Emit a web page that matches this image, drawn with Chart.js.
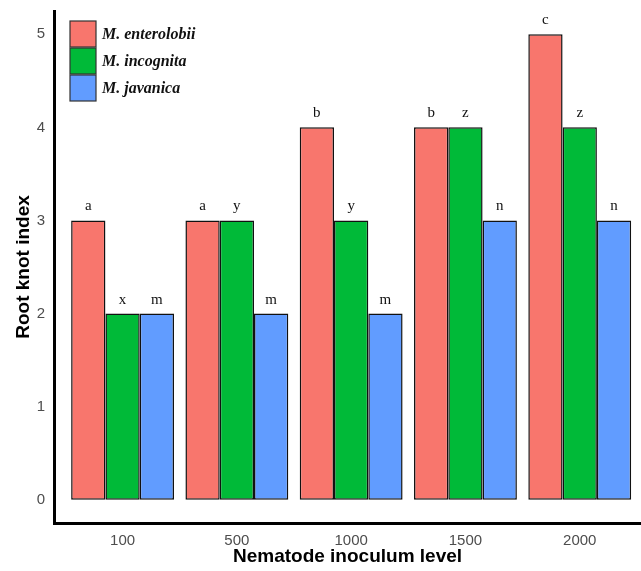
<!DOCTYPE html>
<html><head><meta charset="utf-8">
<script src="https://cdn.jsdelivr.net/npm/chart.js@4.4.0/dist/chart.umd.min.js"></script>
<style>html,body{margin:0;padding:0;background:#fff;overflow:hidden}#wrap{width:641px;height:571px}</style>
</head><body><div id="wrap"><canvas id="c" width="641" height="571"></canvas></div>
<script>
const categories = ["100", "500", "1000", "1500", "2000"];
const seriesNames = ["M. enterolobii", "M. incognita", "M. javanica"];
const enterolobii = [3, 3, 4, 4, 5];
const incognita = [2, 3, 3, 4, 4];
const javanica = [2, 2, 2, 3, 3];
const lettersEnterolobii = ["a", "a", "b", "b", "c"];
const lettersIncognita = ["x", "y", "y", "z", "z"];
const lettersJavanica = ["m", "m", "m", "n", "n"];
const yTicks = [0, 1, 2, 3, 4, 5];
const colors = ["#F8766D", "#00BA38", "#619CFF"];

const values = [enterolobii, incognita, javanica];
const letters = [lettersEnterolobii, lettersIncognita, lettersJavanica];

const datasets = values.map((vals, i) => ({
  label: seriesNames[i],
  data: vals.map((v, j) => ({x: j + 1, y: v})),
  backgroundColor: colors[i],
  borderColor: "#111",
  borderWidth: 1.5,
  borderSkipped: false,
  categoryPercentage: 0.9,
  barPercentage: 1.0
}));

const annot = {
  id: "annot",
  afterDatasetsDraw(chart) {
    const ctx = chart.ctx;
    ctx.save();
    ctx.fillStyle = "#111";
    ctx.font = "15px 'Liberation Serif'";
    ctx.textAlign = "center";
    ctx.textBaseline = "alphabetic";
    chart.data.datasets.forEach((ds, i) => {
      const meta = chart.getDatasetMeta(i);
      meta.data.forEach((bar, j) => {
        ctx.fillText(letters[i][j], bar.x, bar.y - 10);
      });
    });
    // legend
    const bx = 70, by = 21, bw = 26, bh = 26, gap = 1;
    ctx.textAlign = "left";
    ctx.textBaseline = "middle";
    ctx.font = "italic bold 16px 'Liberation Serif'";
    seriesNames.forEach((name, i) => {
      const y = by + i * (bh + gap);
      ctx.fillStyle = colors[i];
      ctx.fillRect(bx, y, bw, bh);
      ctx.strokeStyle = "#333";
      ctx.lineWidth = 1.2;
      ctx.strokeRect(bx, y, bw, bh);
      ctx.fillStyle = "#111";
      ctx.fillText(name, bx + bw + 6, y + bh / 2 + 1);
    });
    ctx.restore();
  }
};

new Chart(document.getElementById("c"), {
  type: "bar",
  data: { datasets },
  plugins: [annot],
  options: {
    responsive: false,
    animation: false,
    layout: { padding: { top: 11, right: 0, left: 0, bottom: 0 } },
    plugins: { legend: { display: false }, tooltip: { enabled: false } },
    scales: {
      x: {
        type: "linear",
        offset: false,
        min: 0.4,
        max: 5.536,
        grid: { display: false, drawTicks: false },
        border: { display: true, color: "#000", width: 3 },
        afterBuildTicks(scale) { scale.ticks = categories.map((c, i) => ({ value: i + 1 })); },
        afterFit(scale) { scale.height = 48; scale.paddingLeft = 0; scale.paddingRight = 0; },
        ticks: {
          autoSkip: false,
          maxRotation: 0,
          padding: 9,
          color: "#4D4D4D",
          font: { family: "'Liberation Sans'", size: 15 },
          callback: (v) => categories[v - 1]
        },
        title: {
          display: true,
          text: "Nematode inoculum level",
          color: "#000",
          font: { family: "'Liberation Sans'", size: 19, weight: "bold" },
          padding: { top: 0, bottom: 3 }
        }
      },
      y: {
        min: -0.25,
        max: 5.25,
        grid: { display: false, drawTicks: false },
        border: { display: true, color: "#000", width: 3 },
        afterBuildTicks(scale) { scale.ticks = yTicks.map(v => ({ value: v })); },
        afterFit(scale) { scale.width = 54; scale.paddingTop = 0; scale.paddingBottom = 0; },
        ticks: {
          padding: 9,
          color: "#4D4D4D",
          font: { family: "'Liberation Sans'", size: 15 }
        },
        title: {
          display: true,
          text: "Root knot index",
          color: "#000",
          font: { family: "'Liberation Sans'", size: 19, weight: "bold" },
          padding: { top: 12, bottom: 0 }
        }
      }
    }
  }
});
</script></body></html>
